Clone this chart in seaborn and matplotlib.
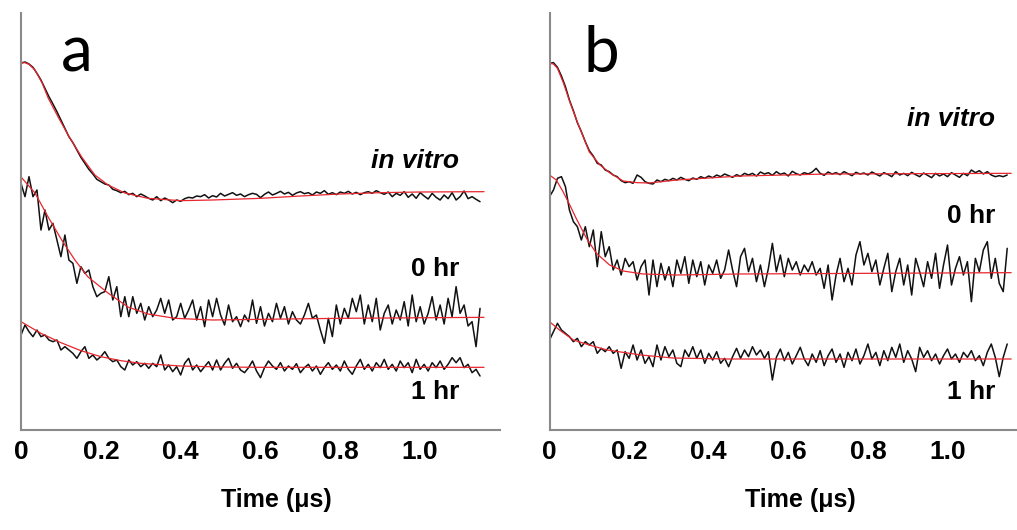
import numpy as np
import pandas as pd
import matplotlib
matplotlib.use("Agg")
import matplotlib.pyplot as plt
import seaborn as sns

# ---------------- data (signal in arbitrary units, time in microseconds) ----------------
t_black = np.round(np.arange(116) * 0.01, 2)
tick_values = [0, 0.2, 0.4, 0.6, 0.8, 1.0]
tick_labels = ["0", "0.2", "0.4", "0.6", "0.8", "1.0"]
minor_ticks = [0.1, 0.3, 0.5, 0.7, 0.9, 1.1]
trace_labels = ["in vitro", "0 hr", "1 hr"]

a_vitro_black = [
    1101, 1104, 1098, 1088, 1070, 1050, 1025, 1000, 978, 955,
    930, 905, 880, 862, 840, 818, 800, 782, 768, 752,
    745, 738, 735, 722, 718, 712, 716, 706, 710, 700,
    708, 702, 695, 690, 700, 688, 696, 690, 682, 690,
    686, 694, 698, 696, 702, 700, 706, 696, 703, 699,
    710, 702, 707, 712, 704, 708, 700, 706, 710, 707,
    697, 707, 714, 705, 710, 716, 708, 713, 704, 711,
    715, 709, 712, 705, 714, 710, 718, 707, 712, 706,
    714, 710, 716, 708, 713, 706, 712, 715, 710, 718,
    712, 707, 714, 700, 710, 704, 715, 698, 708, 695,
    712, 702, 693, 710, 698, 690, 705, 694, 712, 690,
    700, 717, 694, 700, 692, 685]
a_vitro_fit_t = [0, 0.01, 0.02, 0.035, 0.053, 0.068, 0.093, 0.118, 0.152, 0.185, 0.218,
                 0.26, 0.318, 0.4, 0.48, 0.6, 0.7, 0.8, 0.9, 1.0, 1.16]
a_vitro_fit_v = [1101, 1102, 1097, 1080, 1041, 996, 939, 885, 819, 765, 735,
                 711, 695, 688, 690, 695, 702, 708, 712, 714, 715]

a_0hr_black = [
    740, 700, 760, 700, 720, 600, 660, 600, 620, 570,
    520, 585, 510, 500, 440, 490, 470, 480, 430, 400,
    410, 415, 460, 390, 430, 340, 400, 340, 400, 350,
    380, 330, 370, 340, 360, 395, 350, 390, 330, 340,
    380, 335, 360, 390, 330, 370, 310, 390, 340, 395,
    345, 315, 375, 325, 340, 310, 345, 325, 390, 320,
    370, 312, 350, 325, 380, 335, 370, 318, 355, 330,
    318, 345, 380, 335, 345, 300, 260, 335, 280, 375,
    318, 365, 335, 395, 355, 405, 318, 375, 325, 395,
    300, 350, 375, 318, 360, 330, 385, 312, 405, 325,
    370, 318, 350, 400, 330, 375, 318, 395, 340, 430,
    350, 375, 312, 325, 250, 365]
a_0hr_fit_t = [0, 0.035, 0.068, 0.102, 0.135, 0.168, 0.218, 0.268, 0.318, 0.386, 0.48, 0.6, 0.8, 1.16]
a_0hr_fit_v = [759, 711, 639, 570, 510, 459, 411, 369, 348, 335, 330, 332, 335, 338]

a_1hr_black = [
    285, 315, 295, 280, 300, 280, 285, 270, 265, 270,
    240, 250, 240, 230, 215, 235, 250, 215, 225, 210,
    220, 235, 215, 205, 210, 190, 180, 210, 195, 205,
    190, 200, 185, 200, 190, 225, 180, 195, 175, 190,
    165, 200, 215, 180, 195, 175, 190, 205, 180, 210,
    180, 200, 215, 185, 200, 180, 172, 187, 207, 177,
    157, 187, 207, 192, 182, 202, 177, 192, 182, 199,
    172, 187, 197, 177, 192, 167, 187, 202, 182, 195,
    177, 207, 182, 167, 192, 212, 182, 197, 177, 202,
    187, 212, 182, 197, 177, 207, 187, 202, 172, 212,
    182, 197, 177, 202, 187, 207, 182, 197, 217, 202,
    217, 187, 197, 172, 182, 162]
a_1hr_fit_t = [0, 0.05, 0.1, 0.15, 0.2, 0.25, 0.3, 0.4, 0.5, 0.6, 1.16]
a_1hr_fit_v = [325, 290, 262, 238, 220, 208, 200, 192, 189, 188, 188]

b_vitro_black = [
    1100, 1102, 1088, 1062, 1030, 990, 958, 922, 895, 865,
    838, 822, 800, 795, 780, 775, 765, 760, 748, 742,
    745, 740, 765, 758, 745, 740, 738, 750, 745, 752,
    748, 755, 750, 758, 752, 748, 756, 752, 760, 755,
    762, 757, 765, 760, 768, 763, 758, 766, 761, 770,
    765, 770, 762, 774, 768, 772, 764, 775, 767, 771,
    762, 776, 769, 765, 772, 768, 774, 785, 770, 764,
    774, 768, 772, 766, 775, 769, 763, 773, 768, 771,
    765, 774, 768, 762, 772, 767, 760, 775, 765, 770,
    763, 773, 766, 760, 771, 764, 757, 770, 762, 768,
    760, 772, 765, 758, 770, 763, 780, 772, 778, 768,
    775, 765, 760, 763, 760, 765]
b_vitro_fit_t = [0, 0.01, 0.02, 0.035, 0.052, 0.068, 0.085, 0.1, 0.127, 0.152, 0.185,
                 0.22, 0.25, 0.32, 0.48, 0.7, 1.16]
b_vitro_fit_v = [1100, 1098, 1085, 1041, 981, 930, 879, 834, 795, 771, 747,
                 742, 741, 750, 762, 768, 770]

b_0hr_black = [
    700, 720, 755, 760, 730, 660, 625, 610, 570, 610,
    550, 600, 490, 595, 520, 550, 480, 510, 465, 515,
    490, 505, 450, 490, 510, 405, 510, 430, 500, 450,
    490, 430, 510, 470, 520, 440, 510, 460, 505, 435,
    495, 470, 510, 455, 480, 540, 480, 430, 520, 545,
    475, 515, 445, 495, 430, 485, 560, 475, 525, 460,
    515, 480, 505, 465, 495, 475, 505, 465, 485, 425,
    495, 390, 465, 515, 445, 485, 435, 525, 565, 495,
    530, 475, 510, 435, 485, 530, 415, 475, 515, 435,
    495, 405, 515, 475, 430, 505, 455, 530, 425, 495,
    555, 435, 485, 520, 465, 505, 385, 515, 475, 540,
    565, 455, 515, 440, 415, 545]
b_0hr_fit_t = [0, 0.017, 0.034, 0.051, 0.067, 0.093, 0.118, 0.151, 0.185, 0.235, 0.319, 0.478, 0.8, 1.16]
b_0hr_fit_v = [765, 750, 715, 675, 635, 575, 530, 495, 477, 468, 465, 468, 470, 472]

b_1hr_black = [
    270, 295, 320, 300, 290, 280, 265, 275, 250, 265,
    255, 265, 230, 245, 235, 250, 230, 240, 185, 235,
    215, 255, 210, 240, 200, 220, 190, 255, 210, 250,
    220, 240, 200, 190, 240, 220, 250, 215, 240, 200,
    230, 210, 235, 200, 215, 190, 220, 245, 215, 240,
    220, 250, 225, 240, 215, 235, 150, 218, 243, 208,
    233, 198, 223, 248, 213, 193, 228, 203, 238, 193,
    223, 243, 203, 228, 188, 233, 208, 243, 198, 223,
    258, 213, 233, 193, 238, 208, 248, 218, 258, 203,
    238, 213, 175, 248, 218, 238, 208, 228, 198, 223,
    243, 213, 228, 203, 233, 218, 238, 208, 223, 193,
    233, 258, 218, 160, 218, 258]
b_1hr_fit_t = [0, 0.025, 0.06, 0.1, 0.145, 0.23, 0.31, 0.45, 1.16]
b_1hr_fit_v = [325, 300, 270, 255, 240, 225, 216, 213, 213]

# ---------------- style ----------------
sns.set_style("white")
plt.rcParams["font.family"] = ["Liberation Sans", "DejaVu Sans"]
plt.rcParams["text.color"] = "black"
plt.rcParams["xtick.labelcolor"] = "black"

BLACK = "#111111"
RED = "#e8262e"
SPINE = "#8a8a8a"

fig = plt.figure(figsize=(10.17, 5.30), dpi=100)
ax_a = fig.add_axes([21 / 1017, 100 / 530, 479 / 1017, 417 / 530])
ax_b = fig.add_axes([549.5 / 1017, 100 / 530, 467.5 / 1017, 417 / 530])


def draw_panel(ax, blacks, fits, xmax, letter, letter_x, label_x, label_ys, time_x):
    for vals in blacks:
        df = pd.DataFrame({"t": t_black, "v": vals})
        sns.lineplot(data=df, x="t", y="v", ax=ax, color=BLACK, lw=1.1,
                     estimator=None, sort=False)
    for ft, fv in fits:
        df = pd.DataFrame({"t": ft, "v": fv})
        sns.lineplot(data=df, x="t", y="v", ax=ax, color=RED, lw=0.9,
                     estimator=None, sort=False)
    ax.set_xlim(0, xmax)
    ax.set_ylim(0, 1251)
    ax.set_xlabel("")
    ax.set_ylabel("")
    ax.set_yticks([])
    ax.set_xticks(tick_values, labels=tick_labels)
    ax.set_xticks(minor_ticks, minor=True)
    ax.tick_params(axis="x", which="both", direction="in", length=4, width=1.2,
                   color=SPINE, pad=7, labelsize=19, labelcolor="black")
    for lab in ax.get_xticklabels():
        lab.set_fontweight("bold")
    for side in ["top", "right"]:
        ax.spines[side].set_visible(False)
    for side in ["left", "bottom"]:
        ax.spines[side].set_color(SPINE)
        ax.spines[side].set_linewidth(1.5)
    for lab, y in zip(trace_labels, label_ys):
        style = "italic" if lab == "in vitro" else "normal"
        ax.text(label_x, y, lab, ha="right", va="baseline", fontsize=19,
                fontweight="bold", fontstyle=style, color="black")
    ax.text(letter_x, 1075, letter, ha="left", va="baseline", fontsize=46,
            family=["Lato", "DejaVu Sans"], color="black")
    ax.text(time_x, -0.168, "Time (\u03bcs)", transform=ax.transAxes, ha="center",
            va="center", fontsize=18, fontweight="bold", color="black")


draw_panel(ax_a, [a_vitro_black, a_0hr_black, a_1hr_black],
           [(a_vitro_fit_t, a_vitro_fit_v), (a_0hr_fit_t, a_0hr_fit_v), (a_1hr_fit_t, a_1hr_fit_v)],
           1.2, "a", 0.100, 1.097, [785, 462, 93], 0.534)
draw_panel(ax_b, [b_vitro_black, b_0hr_black, b_1hr_black],
           [(b_vitro_fit_t, b_vitro_fit_v), (b_0hr_fit_t, b_0hr_fit_v), (b_1hr_fit_t, b_1hr_fit_v)],
           1.1746, "b", 0.086, 1.12, [912, 622, 93], 0.536)

fig.savefig("out.png", dpi=100, facecolor="white")
